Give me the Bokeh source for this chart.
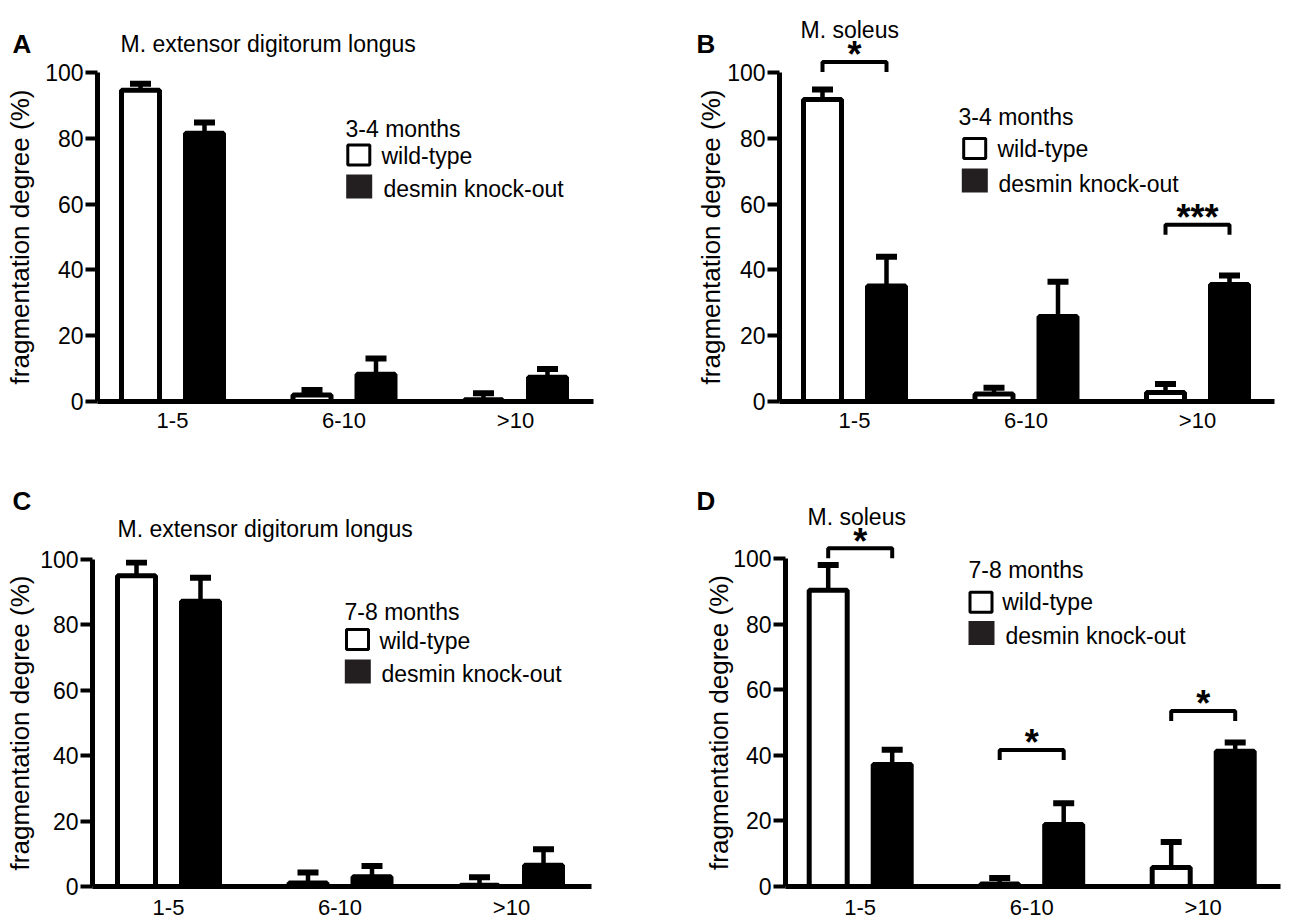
from bokeh.plotting import figure
from bokeh.models import Range1d, FixedTicker, Label, ColumnDataSource, GridBox
from bokeh.embed import file_html
from bokeh.resources import INLINE

# ---------------- data ----------------
categories = ["1-5", "6-10", ">10"]
y_ticks = [0, 20, 40, 60, 80, 100]
series_names = ["wild-type", "desmin knock-out"]

# Panel A: M. extensor digitorum longus, 3-4 months
a_wt = [94.6, 2.0, 0.5]
a_wt_sem = [2.0, 1.5, 2.0]
a_ko = [81.5, 8.3, 7.4]
a_ko_sem = [3.3, 4.8, 2.5]

# Panel B: M. soleus, 3-4 months
b_wt = [91.8, 2.3, 2.7]
b_wt_sem = [3.0, 1.9, 2.6]
b_ko = [35.1, 25.8, 35.6]
b_ko_sem = [8.9, 10.6, 2.7]
b_sig_groups = [0, 2]
b_sig_heights = [103.2, 53.7]
b_sig_text = ["*", "***"]

# Panel C: M. extensor digitorum longus, 7-8 months
c_wt = [95.0, 1.1, 0.4]
c_wt_sem = [4.1, 3.2, 2.4]
c_ko = [87.2, 3.0, 6.5]
c_ko_sem = [7.2, 3.3, 4.9]

# Panel D: M. soleus, 7-8 months
d_wt = [90.3, 0.8, 5.8]
d_wt_sem = [7.7, 1.8, 7.8]
d_ko = [37.2, 18.9, 41.2]
d_ko_sem = [4.5, 6.5, 2.7]
d_sig_groups = [0, 1, 2]
d_sig_heights = [103.1, 42.0, 53.8]
d_sig_text = ["*", "*", "*"]

FONT = "Liberation Sans"
W, H = 650, 461
STEP = 171.5          # px between group centres
OFF = 32 / STEP       # dodge offset
BW = 38 / STEP        # bar width (inner)


def make_panel(letter, title, months, wt, wt_sem, ko, ko_sem, sig, L):
    fx, fy = L["fig_x"], L["fig_y"]
    left = int(round(L["axis_x"] - fx))
    fw = int(round(L["axis_end"] - fx - left))
    right = W - left - fw
    top = int(round(L["y100"] - fy))
    y0_local = int(round(L["y0"] - fy))
    bottom = H - y0_local
    fh = y0_local - top
    scale = fh / 100.0
    x0 = -(L["group0"] - fx - left) / STEP
    x1 = x0 + fw / STEP

    # ---------- main figure: axes, bars, error bars ----------
    p = figure(width=W, height=H, x_range=Range1d(x0, x1), y_range=Range1d(0, 100),
               min_border_left=left, min_border_right=right, min_border_top=top,
               min_border_bottom=bottom, output_backend="svg", toolbar_location=None)
    p.frame_align = False
    p.outline_line_color = None
    p.xgrid.visible = False
    p.ygrid.visible = False
    p.background_fill_color = "white"
    p.border_fill_color = "white"

    yax = p.yaxis[0]
    yax.ticker = FixedTicker(ticks=y_ticks)
    yax.axis_line_width = 5
    yax.axis_line_color = "black"
    yax.major_tick_line_width = 4
    yax.major_tick_line_color = "black"
    yax.major_tick_out = 12
    yax.major_tick_in = 0
    yax.minor_tick_line_color = None
    yax.major_label_standoff = 2
    yax.major_label_text_font = FONT
    yax.major_label_text_font_size = "23px"
    yax.major_label_text_color = "black"
    yax.axis_label = "fragmentation degree (%)"
    yax.axis_label_text_font = FONT
    yax.axis_label_text_font_size = "26px"
    yax.axis_label_text_font_style = "normal"
    yax.axis_label_text_color = "black"
    yax.axis_label_standoff = L["ylab_standoff"]

    xax = p.xaxis[0]
    xax.ticker = FixedTicker(ticks=[0, 1, 2])
    xax.major_label_overrides = {i: c for i, c in enumerate(categories)}
    xax.axis_line_width = 5
    xax.axis_line_color = "black"
    xax.major_tick_line_color = None
    xax.minor_tick_line_color = None
    xax.major_tick_out = 0
    xax.major_tick_in = 0
    xax.major_label_standoff = L["xlab_standoff"]
    xax.major_label_text_font = FONT
    xax.major_label_text_font_size = "22px"
    xax.major_label_text_color = "black"

    groups = list(range(len(categories)))
    for vals, sems, sign, fill in ((wt, wt_sem, -1, "white"), (ko, ko_sem, 1, "black")):
        src = ColumnDataSource(dict(
            x=[g + sign * OFF for g in groups],
            top=vals,
            up=[v + s for v, s in zip(vals, sems)],
        ))
        p.segment(x0="x", y0="top", x1="x", y1="up", source=src,
                  line_width=4.5, line_color="black")
        p.vbar(x="x", top="top", width=BW, bottom=0, source=src,
               fill_color=fill, line_color="black", line_width=5)
        p.rect(x="x", y="up", width=21, height=6, width_units="screen",
               height_units="screen", source=src, fill_color="black", line_color=None)

    # ---------- overlay figure: same scales, frame = whole canvas ----------
    xo0 = x0 - left / STEP
    xo1 = xo0 + W / STEP
    yo0 = -bottom / scale
    yo1 = y0_local / scale
    o = figure(width=W, height=H, x_range=Range1d(xo0, xo1), y_range=Range1d(yo0, yo1),
               min_border=0, x_axis_type=None, y_axis_type=None,
               output_backend="svg", toolbar_location=None)
    o.frame_align = False
    o.outline_line_color = None
    o.xgrid.visible = False
    o.ygrid.visible = False
    o.background_fill_color = None
    o.border_fill_color = None

    def px2x(px):
        return xo0 + (px - fx) / STEP

    def px2y(py):
        return yo1 - (py - fy) / scale

    def lab(px, py, text, size, bold=False, align="left"):
        o.add_layout(Label(x=px2x(px), y=px2y(py), text=text, text_font=FONT,
                           text_font_size=size, text_font_style="bold" if bold else "normal",
                           text_align=align, text_baseline="middle", text_color="black"))

    # significance brackets
    if sig is not None:
        groups_s, heights_s, texts_s = sig
        drop = 10 / scale
        xs = [[g - OFF, g - OFF, g + OFF, g + OFF] for g in groups_s]
        ys = [[h - drop, h, h, h - drop] for h in heights_s]
        o.multi_line(xs=xs, ys=ys, line_width=4, line_color="black")
        for g, h, t in zip(groups_s, heights_s, texts_s):
            o.add_layout(Label(x=g, y=h + 7 / scale, text=t, text_font=FONT,
                               text_font_size="36px", text_font_style="bold",
                               text_align="center", text_baseline="middle",
                               text_color="black"))

    # legend
    lg = L["legend"]
    lab(lg["title"][0], lg["title"][1], months, "23px")
    o.rect(x=[px2x(lg["wt_box"][0])], y=[px2y(lg["wt_box"][1])], width=22, height=20,
           width_units="screen", height_units="screen", fill_color="white",
           line_color="black", line_width=3)
    o.rect(x=[px2x(lg["ko_box"][0])], y=[px2y(lg["ko_box"][1])], width=26, height=24,
           width_units="screen", height_units="screen", fill_color="#231f20",
           line_color=None)
    lab(lg["wt_text"][0], lg["wt_text"][1], series_names[0], "23px")
    lab(lg["ko_text"][0], lg["ko_text"][1], series_names[1], "23px")

    # title and panel letter
    lab(L["title_pos"][0], L["title_pos"][1], title, "23px")
    lab(L["letter_pos"][0], L["letter_pos"][1], letter, "26px", bold=True)
    return p, o


LA = dict(fig_x=0, fig_y=0, axis_x=96.7, axis_end=593, group0=172, y0=401, y100=71.7,
          ylab_standoff=7, xlab_standoff=6,
          title_pos=(120, 43), letter_pos=(12, 43),
          legend=dict(title=(345, 128), wt_box=(358.3, 154.5), ko_box=(358.7, 186),
                      wt_text=(381, 155), ko_text=(383, 188)))
LB = dict(fig_x=650, fig_y=0, axis_x=779, axis_end=1274, group0=854, y0=401, y100=71.7,
          ylab_standoff=-2, xlab_standoff=6,
          title_pos=(800, 29), letter_pos=(696, 43),
          legend=dict(title=(958, 116), wt_box=(974.2, 148), ko_box=(974.3, 180),
                      wt_text=(997, 148), ko_text=(998, 183)))
LC = dict(fig_x=0, fig_y=461, axis_x=91.8, axis_end=591, group0=168, y0=887.7, y100=559,
          ylab_standoff=2, xlab_standoff=8,
          title_pos=(117, 528), letter_pos=(12, 500),
          legend=dict(title=(344, 611.7), wt_box=(357, 639), ko_box=(357.3, 671),
                      wt_text=(379, 640), ko_text=(381, 673)))
LD = dict(fig_x=650, fig_y=461, axis_x=785, axis_end=1280, group0=859.7, y0=887.7, y100=558.3,
          ylab_standoff=-4, xlab_standoff=8,
          title_pos=(807, 516), letter_pos=(696, 500),
          legend=dict(title=(968, 569), wt_box=(980.5, 601.7), ko_box=(981, 632.5),
                      wt_text=(1001.7, 601), ko_text=(1005, 635.7)))

pA, oA = make_panel("A", "M. extensor digitorum longus", "3-4 months",
                    a_wt, a_wt_sem, a_ko, a_ko_sem, None, LA)
pB, oB = make_panel("B", "M. soleus", "3-4 months",
                    b_wt, b_wt_sem, b_ko, b_ko_sem, (b_sig_groups, b_sig_heights, b_sig_text), LB)
pC, oC = make_panel("C", "M. extensor digitorum longus", "7-8 months",
                    c_wt, c_wt_sem, c_ko, c_ko_sem, None, LC)
pD, oD = make_panel("D", "M. soleus", "7-8 months",
                    d_wt, d_wt_sem, d_ko, d_ko_sem, (d_sig_groups, d_sig_heights, d_sig_text), LD)

layout = GridBox(children=[(pA, 0, 0), (pB, 0, 1), (pC, 1, 0), (pD, 1, 1),
                           (oA, 0, 0), (oB, 0, 1), (oC, 1, 0), (oD, 1, 1)])
open("out.html", "w").write(file_html(layout, INLINE))
